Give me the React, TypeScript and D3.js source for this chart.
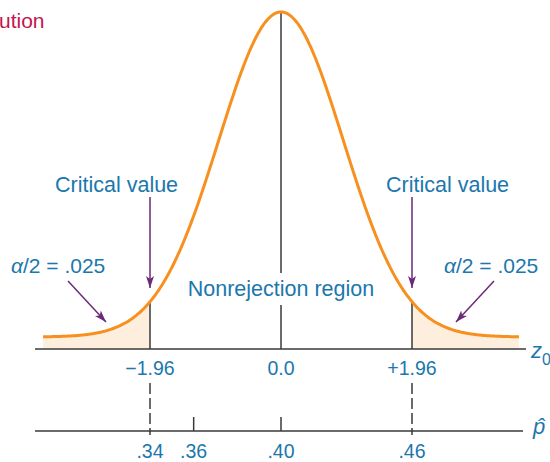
import * as d3 from "d3";

// z axis ticks (standard normal) and matching p-hat ticks
const zTicks = [-1.96, 0, 1.96];
const zTickLabels = ["\u22121.96", "0.0", "+1.96"];
const pTicks = [0.34, 0.36, 0.4, 0.46];
const pTickLabels = [".34", ".36", ".40", ".46"];
const pDashed = [0.34, 0.46];
const pSolid = [0.36, 0.4];

const W = 550;
const H = 462;
const BLUE = "#1b77ad";
const ORANGE = "#f7901e";
const PURPLE = "#6b2a78";
const AXIS = "#3a3a3a";
const SANS = "'Liberation Sans', Arial, sans-serif";

const zAxisY = 349;
const pAxisY = 431;

const zScale = d3.scaleLinear().domain([-1.96, 1.96]).range([150, 412]);
const pScale = d3.scaleLinear().domain([0.34, 0.4]).range([150, 281]);
// curve is drawn a little narrower than the axis, as in the figure
const curveSd = 0.93;
const curveZ = d3.range(-3.56, 3.5601, 0.02);
const yScale = d3.scaleLinear().domain([0, 1]).range([337, 12]);
const dens = (z: number) => Math.exp(-((z / curveSd) ** 2) / 2);

function TailLabel({ x }: { x: number }) {
  return (
    <text x={x} y={273} fontSize={21} fill={BLUE}>
      <tspan fontStyle="italic">{"\u03b1"}</tspan>/2 = .025
    </text>
  );
}

export default function App() {
  const line = d3
    .line<number>()
    .x((z) => zScale(z))
    .y((z) => yScale(dens(z)))
    .curve(d3.curveBasis);
  const area = d3
    .area<number>()
    .x((z) => zScale(z))
    .y0(zAxisY)
    .y1((z) => yScale(dens(z)))
    .curve(d3.curveBasis);

  const leftTail = curveZ.filter((z) => z <= -1.96).concat([-1.96]);
  const rightTail = [1.96].concat(curveZ.filter((z) => z >= 1.96));
  const crit = [-1.96, 1.96];

  return (
    <svg
      width={W}
      height={H}
      style={{ position: "absolute", left: 0, top: 0, background: "#fff" }}
      fontFamily={SANS}
    >
      <defs>
        <marker
          id="arr"
          viewBox="0 0 12 8"
          refX="12"
          refY="4"
          markerWidth="12"
          markerHeight="8"
          markerUnits="userSpaceOnUse"
          orient="auto"
        >
          <path d="M0,0 L12,4 L0,8 L3,4 Z" fill={PURPLE} />
        </marker>
      </defs>

      <text x={-1} y={28} fontSize={21} fill="#c0174f">
        ution
      </text>

      {/* shaded tails */}
      <path d={area(leftTail) ?? ""} fill="#fdeedd" />
      <path d={area(rightTail) ?? ""} fill="#fdeedd" />

      {/* center line, broken by label */}
      <line x1={zScale(0)} x2={zScale(0)} y1={yScale(1)} y2={273} stroke={AXIS} strokeWidth={1.5} />
      <line x1={zScale(0)} x2={zScale(0)} y1={305} y2={zAxisY} stroke={AXIS} strokeWidth={1.5} />

      {/* critical lines */}
      {crit.map((z) => (
        <line
          key={z}
          x1={zScale(z)}
          x2={zScale(z)}
          y1={yScale(dens(z))}
          y2={zAxisY}
          stroke={AXIS}
          strokeWidth={1.5}
        />
      ))}

      <path d={line(curveZ) ?? ""} fill="none" stroke={ORANGE} strokeWidth={3} />

      {/* z axis */}
      <line x1={35} x2={526} y1={zAxisY} y2={zAxisY} stroke={AXIS} strokeWidth={1.5} />
      {zTicks.map((z, i) => (
        <text key={z} x={zScale(z)} y={375} fontSize={19.5} fill={BLUE} textAnchor="middle">
          {zTickLabels[i]}
        </text>
      ))}
      <text x={531} y={358} fontSize={22} fill={BLUE} fontStyle="italic">
        z<tspan fontSize={16} fontStyle="normal" dy={7}>0</tspan>
      </text>

      {/* p-hat axis */}
      <line x1={35} x2={523} y1={pAxisY} y2={pAxisY} stroke={AXIS} strokeWidth={1.5} />
      {pDashed.map((p) => (
        <line
          key={p}
          x1={pScale(p)}
          x2={pScale(p)}
          y1={383}
          y2={pAxisY + 4}
          stroke={AXIS}
          strokeWidth={1.5}
          strokeDasharray="11 4"
        />
      ))}
      {pSolid.map((p) => (
        <line key={p} x1={pScale(p)} x2={pScale(p)} y1={417} y2={pAxisY} stroke={AXIS} strokeWidth={1.5} />
      ))}
      {pTicks.map((p, i) => (
        <text key={p} x={pScale(p)} y={458} fontSize={19.5} fill={BLUE} textAnchor="middle">
          {pTickLabels[i]}
        </text>
      ))}
      <text x={533} y={434} fontSize={22} fill={BLUE} fontStyle="italic">
        {"p\u0302"}
      </text>

      {/* annotations */}
      <text x={55} y={192} fontSize={21.5} fill={BLUE}>
        Critical value
      </text>
      <text x={386} y={192} fontSize={21.5} fill={BLUE}>
        Critical value
      </text>
      {crit.map((z) => (
        <line
          key={"a" + z}
          x1={zScale(z)}
          x2={zScale(z)}
          y1={197}
          y2={288}
          stroke={PURPLE}
          strokeWidth={1.5}
          markerEnd="url(#arr)"
        />
      ))}
      <TailLabel x={11} />
      <TailLabel x={444} />
      <line x1={68} y1={281} x2={106} y2={322} stroke={PURPLE} strokeWidth={1.5} markerEnd="url(#arr)" />
      <line x1={494} y1={281} x2={456} y2={322} stroke={PURPLE} strokeWidth={1.5} markerEnd="url(#arr)" />
      <text x={zScale(0)} y={296} fontSize={21.5} fill={BLUE} textAnchor="middle">
        Nonrejection region
      </text>
    </svg>
  );
}
